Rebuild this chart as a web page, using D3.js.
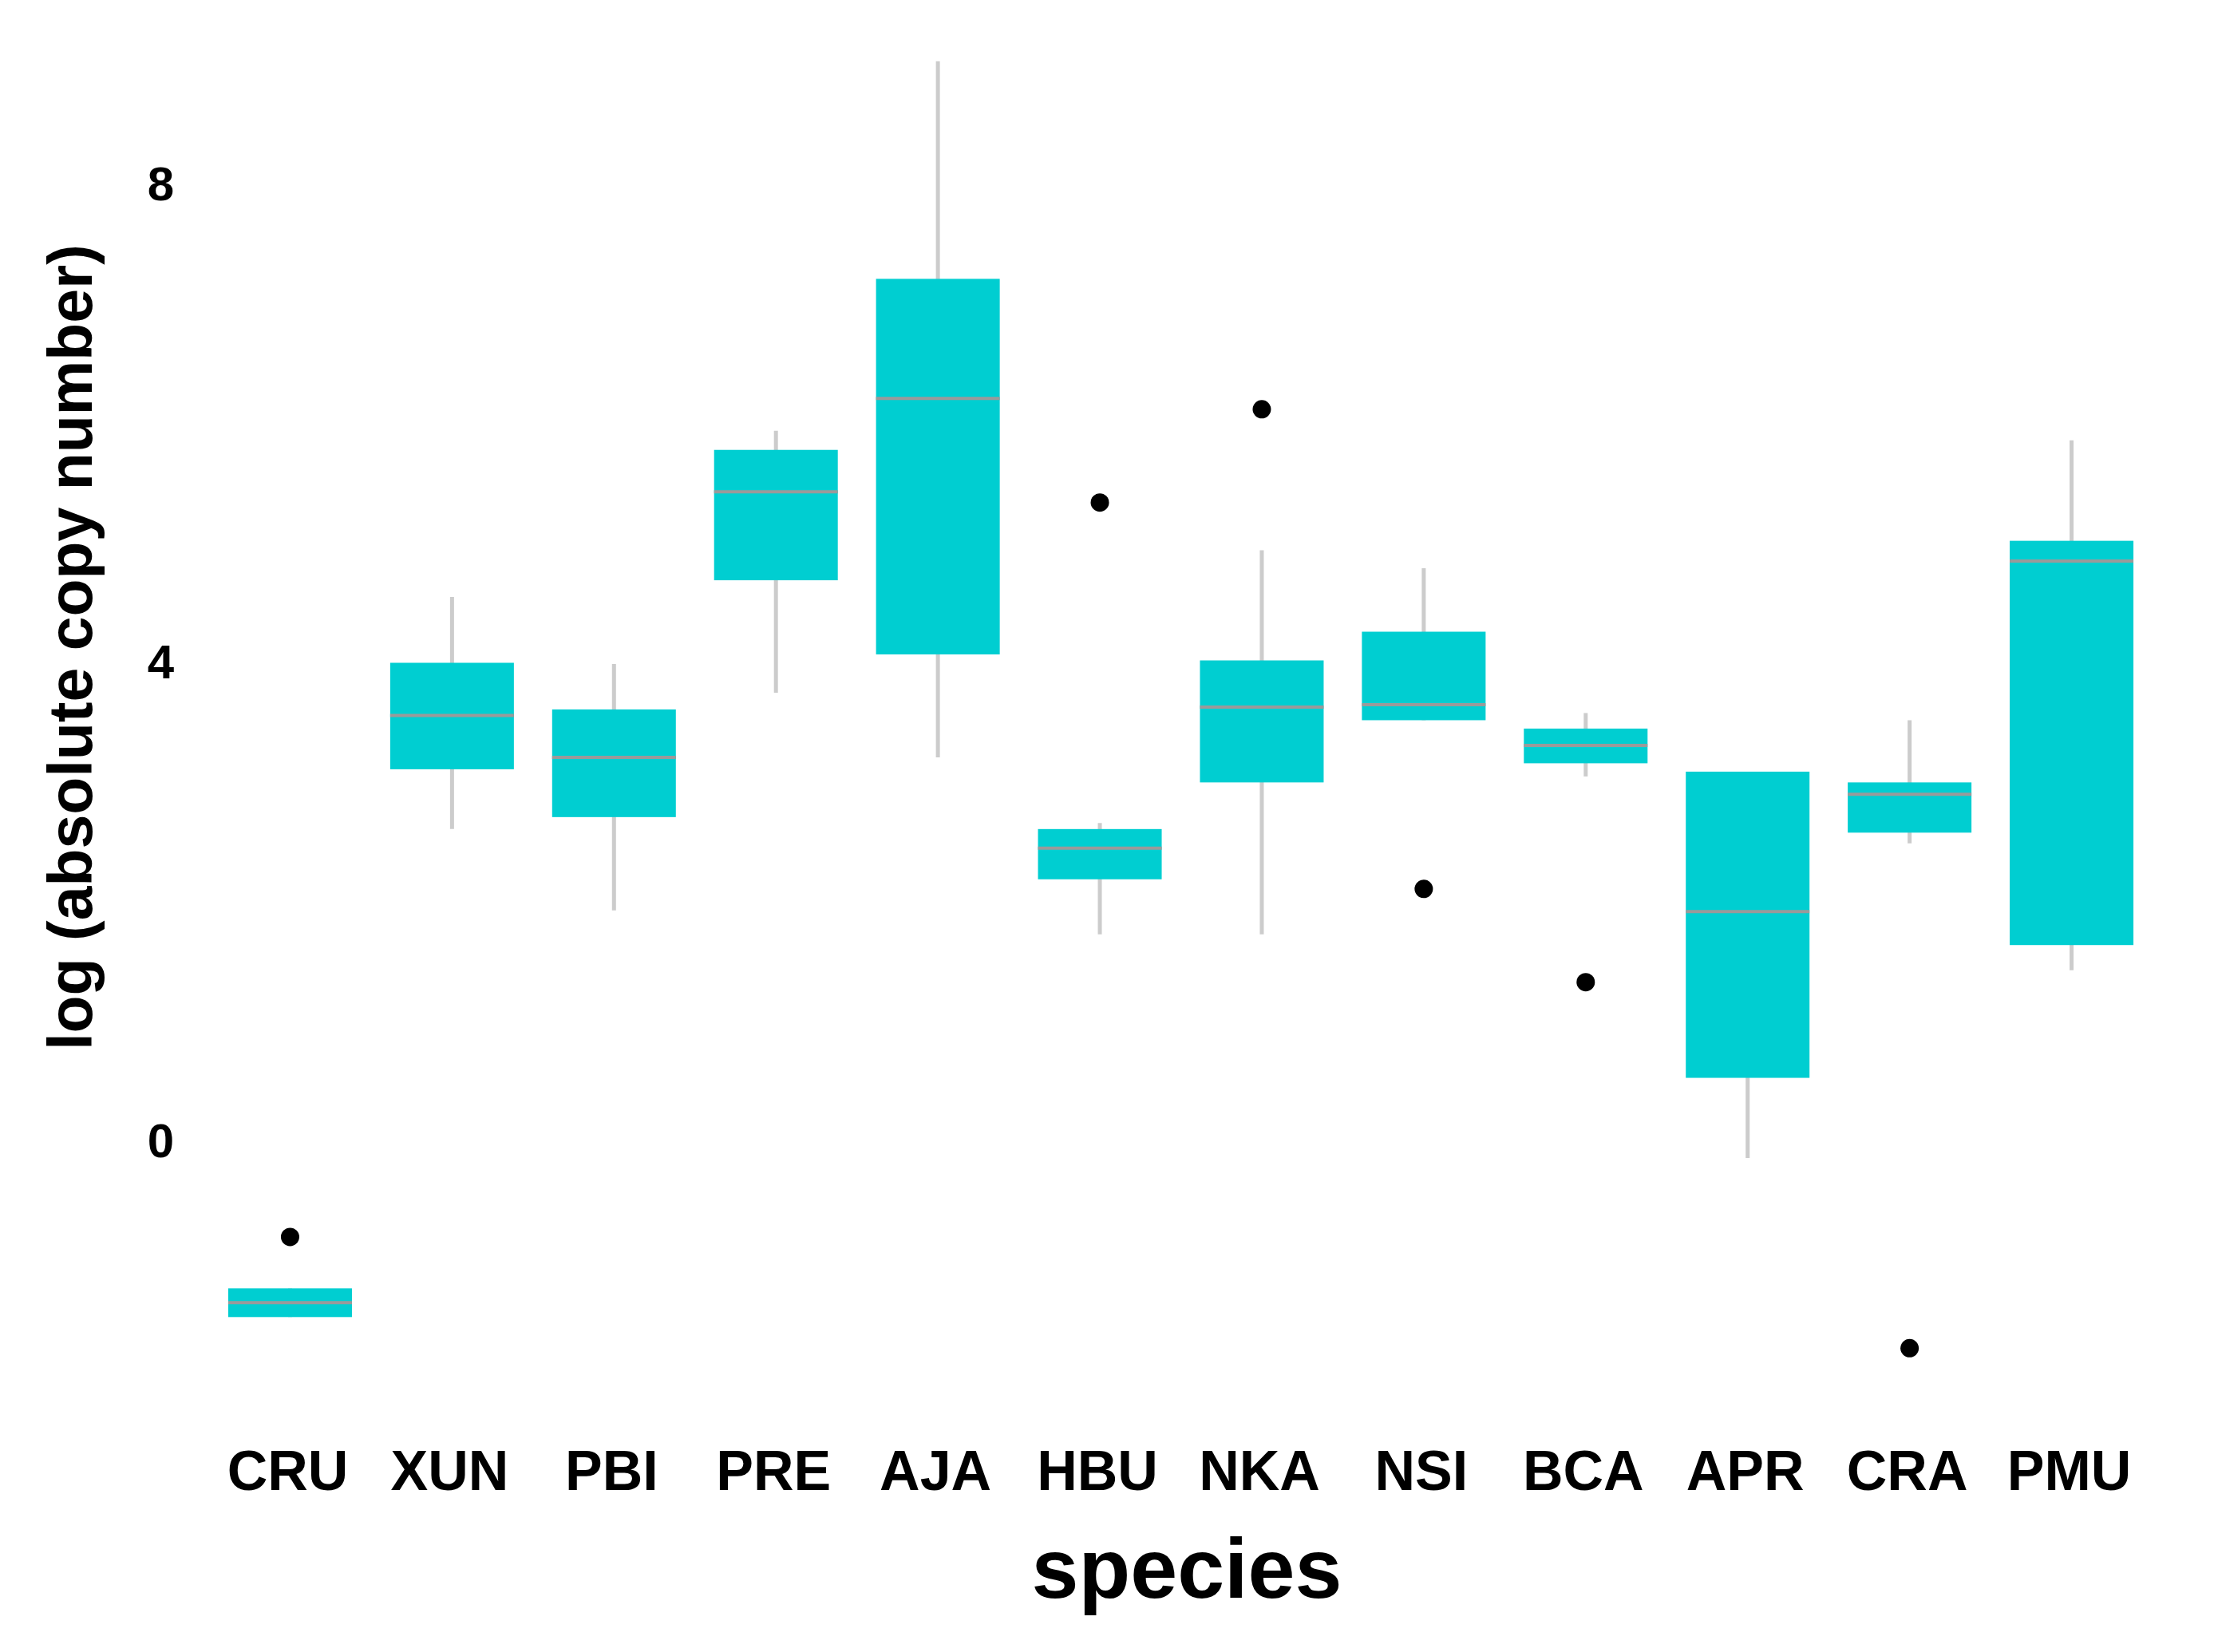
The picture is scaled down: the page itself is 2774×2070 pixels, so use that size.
<meta charset="utf-8">
<html>

<head>
    <script src="https://d3js.org/d3.v7.min.js"></script>
    <style>
        body { margin: 0; background: #fff; }
        text { font-family: "Liberation Sans", Arial, sans-serif; font-weight: bold; }
    </style>
</head>

<body>
    <div id="my_dataviz"></div>

    <script>
        // species on the x axis
        const species = ["CRU", "XUN", "PBI", "PRE", "AJA", "HBU", "NKA", "NSI", "BCA", "APR", "CRA", "PMU"];

        // box statistics (log absolute copy number)
        const whiskerLow = [-1.47, 2.61, 1.93, 3.75, 3.21, 1.73, 1.73, 3.52, 3.05, -0.14, 2.49, 1.43];
        const q1 = [-1.47, 3.11, 2.71, 4.69, 4.07, 2.19, 3.00, 3.52, 3.16, 0.53, 2.58, 1.64];
        const median = [-1.35, 3.56, 3.21, 5.43, 6.21, 2.45, 3.63, 3.65, 3.31, 1.92, 2.90, 4.85];
        const q3 = [-1.23, 4.00, 3.61, 5.78, 7.21, 2.61, 4.02, 4.26, 3.45, 3.09, 3.00, 5.02];
        const whiskerHigh = [-1.23, 4.55, 3.99, 5.94, 9.03, 2.66, 4.94, 4.79, 3.58, 3.09, 3.52, 5.86];

        // outliers: species + value
        const outlierSpecies = ["CRU", "HBU", "NKA", "NSI", "BCA", "CRA"];
        const outlierValues = [-0.80, 5.34, 6.12, 2.11, 1.33, -1.73];

        const yTicks = [0, 4, 8];

        const W = 2774, H = 2070;

        const svg = d3.select("#my_dataviz").append("svg")
            .attr("width", W)
            .attr("height", H);

        const boxes = species.map((s, i) => ({
            name: s, lo: whiskerLow[i], q1: q1[i], med: median[i], q3: q3[i], hi: whiskerHigh[i]
        }));
        const outliers = outlierSpecies.map((s, i) => ({ name: s, v: outlierValues[i] }));

        // scales
        const x = d3.scaleBand().domain(species).range([262, 2697]).padding(0);
        const boxW = 155;
        const y = d3.scaleLinear().domain([0, 8]).range([1430, 231]);

        // y tick labels (no axis line / ticks in the figure)
        const yAxis = svg.append("g")
            .attr("transform", "translate(218,0)")
            .call(d3.axisLeft(y).tickValues(yTicks).tickSize(0).tickPadding(0).tickFormat(d3.format("d")));
        yAxis.select(".domain").remove();
        yAxis.selectAll("text")
            .attr("font-family", null)
            .style("font-size", "60px")
            .attr("fill", "#000");

        // x tick labels
        const xAxis = svg.append("g")
            .attr("transform", "translate(-3,1817)")
            .call(d3.axisBottom(x).tickSize(0).tickPadding(0));
        xAxis.select(".domain").remove();
        xAxis.selectAll("text")
            .attr("font-family", null)
            .attr("dy", "0.716em")
            .style("font-size", "70px")
            .attr("fill", "#000");

        // whiskers
        svg.append("g").selectAll("line").data(boxes).enter().append("line")
            .attr("x1", d => x(d.name) + x.bandwidth() / 2)
            .attr("x2", d => x(d.name) + x.bandwidth() / 2)
            .attr("y1", d => y(d.lo))
            .attr("y2", d => y(d.hi))
            .attr("stroke", "#cccccc")
            .attr("stroke-width", 5);

        // boxes
        svg.append("g").selectAll("rect").data(boxes).enter().append("rect")
            .attr("x", d => x(d.name) + x.bandwidth() / 2 - boxW / 2)
            .attr("width", boxW)
            .attr("y", d => y(d.q3))
            .attr("height", d => y(d.q1) - y(d.q3))
            .attr("fill", "#00CED1");

        // medians
        svg.append("g").selectAll("line").data(boxes).enter().append("line")
            .attr("x1", d => x(d.name) + x.bandwidth() / 2 - boxW / 2)
            .attr("x2", d => x(d.name) + x.bandwidth() / 2 + boxW / 2)
            .attr("y1", d => y(d.med))
            .attr("y2", d => y(d.med))
            .attr("stroke", "#9a9a9a")
            .attr("stroke-width", 4);

        // outlier dots
        svg.append("g").selectAll("circle").data(outliers).enter().append("circle")
            .attr("cx", d => x(d.name) + x.bandwidth() / 2)
            .attr("cy", d => y(d.v))
            .attr("r", 11.5)
            .attr("fill", "#000");

        // axis titles
        svg.append("text")
            .attr("x", 1487)
            .attr("y", 2002)
            .attr("text-anchor", "middle")
            .style("font-size", "106px")
            .text("species");

        svg.append("text")
            .attr("transform", "translate(115,811) rotate(-90)")
            .attr("text-anchor", "middle")
            .style("font-size", "77px")
            .text("log (absolute copy number)");
    </script>
</body>

</html>
